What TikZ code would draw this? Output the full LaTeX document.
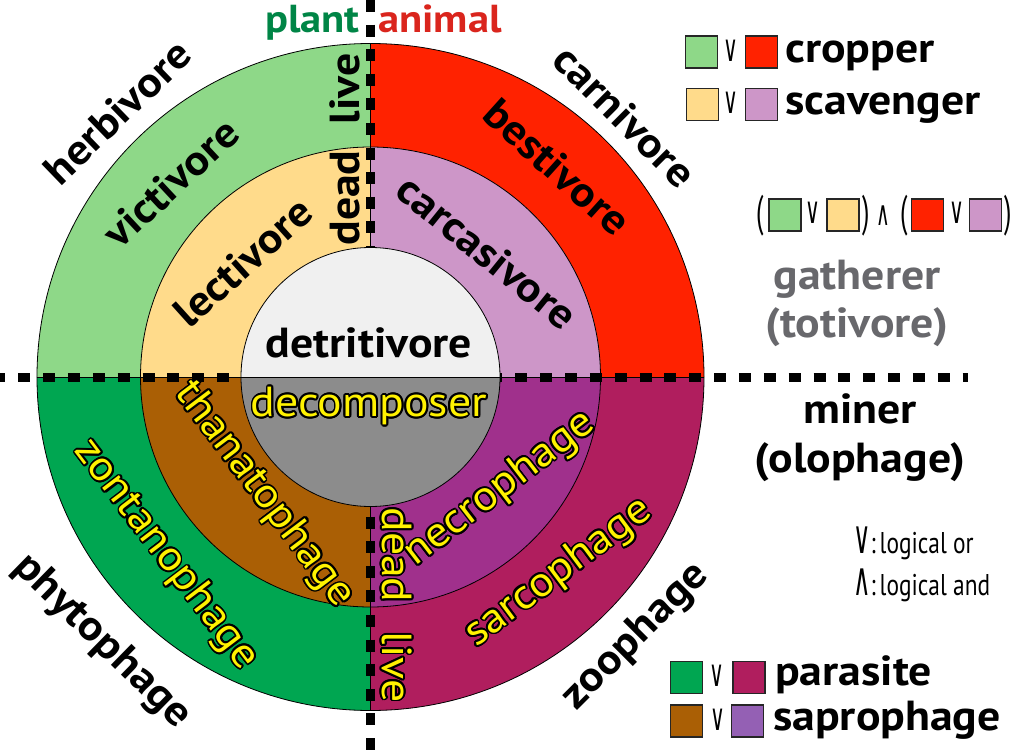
\documentclass[tikz,border=0pt]{standalone}
\usepackage{fontspec}
\setmainfont{PT Sans}[FakeStretch=1.09]
\newfontfamily\plainpt{PT Sans}
\newfontfamily\dejavu{DejaVu Sans}
\usepackage{graphicx}
\definecolor{herbgreen}{RGB}{142,216,136}
\definecolor{carnred}{RGB}{255,34,0}
\definecolor{lecyellow}{RGB}{255,219,139}
\definecolor{carclilac}{RGB}{205,150,200}
\definecolor{detwhite}{RGB}{240,240,240}
\definecolor{decgray}{RGB}{140,140,140}
\definecolor{zongreen}{RGB}{0,166,81}
\definecolor{thanbrown}{RGB}{170,95,5}
\definecolor{necpurple}{RGB}{160,48,140}
\definecolor{sarcmag}{RGB}{176,30,94}
\definecolor{sapropurple}{RGB}{148,96,180}
\definecolor{plantgreen}{RGB}{0,133,70}
\definecolor{animalred}{RGB}{218,37,29}
\definecolor{gathergray}{RGB}{104,104,108}
\definecolor{textyellow}{RGB}{255,242,0}
\tikzset{
  lbl/.style={font=\bfseries\fontsize{42}{42}\selectfont, inner sep=0pt},
  toplbl/.style={font=\bfseries\fontsize{39}{39}\selectfont, inner sep=0pt},
  ylbl/.style={font=\fontsize{42}{42}\selectfont, inner sep=0pt},
  dashline/.style={line width=9pt, black},
  ringline/.style={draw=black, line width=0.8pt},
  sq/.style={draw=black!85, line width=1.5pt, minimum size=32pt, inner sep=0pt},
  opsym/.style={inner sep=0pt},
}
\newcommand\orsym{\scalebox{0.55}[1]{\dejavu\fontsize{37}{37}\selectfont ∨}}
\newcommand\andsym{\scalebox{0.55}[1]{\dejavu\fontsize{34}{34}\selectfont ∧}}
\newcommand\orbig{\scalebox{0.52}[1]{\dejavu\fontsize{46}{46}\selectfont ∨}}
\newcommand\andbig{\scalebox{0.52}[1]{\dejavu\fontsize{46}{46}\selectfont ∧}}
\newcommand\paren[1]{\scalebox{0.6}[1]{\plainpt\fontsize{44}{44}\selectfont #1}}
\newcommand\yel[5]{%
  \foreach \ang in {0,22.5,...,337.5}{%
    \node[ylbl,rotate=#2,text=black] at ({#3+1.8*cos(\ang)},{#4+1.8*sin(\ang)}) {#5};}
  \node[ylbl,rotate=#2,text=textyellow] (#1) at (#3,#4) {#5};}
\begin{document}
\begin{tikzpicture}[x=1pt,y=1pt]
\useasboundingbox (-370.5,-378) rectangle (653.5,377);
\fill[white] (-370.5,-378) rectangle (653.5,377);
% outer ring
\fill[herbgreen] (0,0) -- (180:333.5) arc[start angle=180,end angle=90,radius=333.5pt] -- cycle;
\fill[carnred] (0,0) -- (90:333.5) arc[start angle=90,end angle=0,radius=333.5pt] -- cycle;
\fill[zongreen] (0,0) -- (180:333.5) arc[start angle=180,end angle=270,radius=333.5pt] -- cycle;
\fill[sarcmag] (0,0) -- (270:333.5) arc[start angle=270,end angle=360,radius=333.5pt] -- cycle;
% middle ring
\fill[lecyellow] (0,0) -- (180:230) arc[start angle=180,end angle=90,radius=230pt] -- cycle;
\fill[carclilac] (0,0) -- (90:230) arc[start angle=90,end angle=0,radius=230pt] -- cycle;
\fill[thanbrown] (0,0) -- (180:230) arc[start angle=180,end angle=270,radius=230pt] -- cycle;
\fill[necpurple] (0,0) -- (270:230) arc[start angle=270,end angle=360,radius=230pt] -- cycle;
\draw[ringline] (0,0) circle[radius=333.5pt];
\draw[ringline] (0,0) circle[radius=230pt];
\draw[ringline] (-333.5,0) -- (333.5,0);
\draw[ringline] (0,333.5) -- (0,-333.5);
% dashed axes
\draw[dashline, dash pattern=on 12pt off 12.85pt] (-377.05,0) -- (597.5,0);
\draw[dashline, dash pattern=on 12pt off 12.6pt] (0,377) -- (0,-378);
% inner circle over the dashes
\fill[detwhite] (0:129.5) arc[start angle=0,end angle=180,radius=129.5pt] -- cycle;
\fill[decgray] (180:129.5) arc[start angle=180,end angle=360,radius=129.5pt] -- cycle;
\draw[ringline] (0,0) circle[radius=129.5pt];
\draw[ringline] (-129.5,0) -- (129.5,0);
% top labels
\node[toplbl, text=plantgreen, anchor=base east] (plant) at (-10.5,344) {plant};
\node[toplbl, text=animalred, anchor=base west] (animal) at (7.5,344) {animal};
% ring labels
\node[lbl, rotate=44] (herbivore) at (-253.5,265) {herbivore};
\node[lbl, rotate=43] (victivore) at (-199.5,194) {victivore};
\node[lbl, rotate=42] (lectivore) at (-127.5,115) {lectivore};
\node[lbl, rotate=90] (livetop) at (-25.5,288) {live};
\node[lbl, rotate=90] (deadtop) at (-25.5,179) {dead};
\node[lbl] (detritivore) at (-1.5,34) {detritivore};
\node[lbl, rotate=-45] (carnivore) at (254.5,261) {carnivore};
\node[lbl, rotate=-42] (bestivore) at (186.5,210) {bestivore};
\node[lbl, rotate=-39] (carcasivore) at (116.5,125) {carcasivore};
\node[lbl, rotate=-44.4] (phytophage) at (-268.5,-265) {phytophage};
\node[lbl, rotate=45] (zoophage) at (265.5,-260) {zoophage};
\yel{decomposer}{0}{-1.5}{-29}{decomposer}
\yel{thanatophage}{-53}{-106.5}{-118}{thanatophage}
\yel{zontanophage}{-52.8}{-204.5}{-178}{zontanophage}
\yel{deadbot}{-90}{26.5}{-178}{dead}
\yel{livebot}{-90}{26.5}{-290}{live}
\yel{necrophage}{37.6}{129.5}{-112}{necrophage}
\yel{sarcophage}{36.7}{188.5}{-196}{sarcophage}
% legend top
\node[sq, fill=herbgreen] (s1) at (331,325) {};
\node[opsym, anchor=base] (o1) at (360.5,315) {\orsym};
\node[sq, fill=carnred] (s2) at (391,325) {};
\node[lbl, anchor=base west] (cropper) at (414.5,314) {cropper};
\node[sq, fill=lecyellow] (s3) at (332,272.5) {};
\node[opsym, anchor=base] (o2) at (360.5,263) {\orsym};
\node[sq, fill=carclilac] (s4) at (391,272.5) {};
\node[lbl, anchor=base west] (scavenger) at (414.5,262) {scavenger};
% formula
\node[opsym] (p1) at (389.5,161) {\paren{(}};
\node[sq, fill=herbgreen] (f1) at (414.5,162) {};
\node[opsym, anchor=base] (o3) at (442.5,154) {\orsym};
\node[sq, fill=lecyellow] (f2) at (472.5,162) {};
\node[opsym] (p2) at (495.5,161) {\paren{)}};
\node[opsym, anchor=base] (a1) at (512.5,152) {\andsym};
\node[opsym] (p3) at (533.5,161) {\paren{(}};
\node[sq, fill=carnred] (f3) at (557,162) {};
\node[opsym, anchor=base] (o4) at (586.5,154) {\orsym};
\node[sq, fill=carclilac] (f4) at (615,162) {};
\node[opsym] (p4) at (637.5,161) {\paren{)}};
\node[lbl, text=gathergray, anchor=base] (gatherer) at (486.5,88) {gatherer};
\node[lbl, text=gathergray, anchor=base] (totivore) at (486.5,40) {(totivore)};
\node[lbl, anchor=base] (miner) at (489.5,-46) {miner};
\node[lbl, anchor=base] (olophage) at (489.5,-95) {(olophage)};
\node[anchor=base west, inner sep=0pt] (lor) at (482.5,-176) {\orbig\scalebox{0.78}[1]{\plainpt\fontsize{30}{30}\selectfont:\,logical or}};
\node[anchor=base west, inner sep=0pt] (land) at (482.5,-218) {\andbig\scalebox{0.78}[1]{\plainpt\fontsize{30}{30}\selectfont:\,logical and}};
% legend bottom
\node[sq, fill=zongreen] (s5) at (316,-300.5) {};
\node[opsym, anchor=base] (o5) at (346.5,-309) {\orsym};
\node[sq, fill=sarcmag] (s6) at (378.5,-300.5) {};
\node[lbl, anchor=base west] (parasite) at (404.5,-308) {parasite};
\node[sq, fill=thanbrown] (s7) at (316,-344) {};
\node[opsym, anchor=base] (o6) at (347.5,-353) {\orsym};
\node[sq, fill=sapropurple] (s8) at (377,-344) {};
\node[lbl, anchor=base west] (saprophage) at (402.5,-353) {saprophage};
\end{tikzpicture}
\end{document}
